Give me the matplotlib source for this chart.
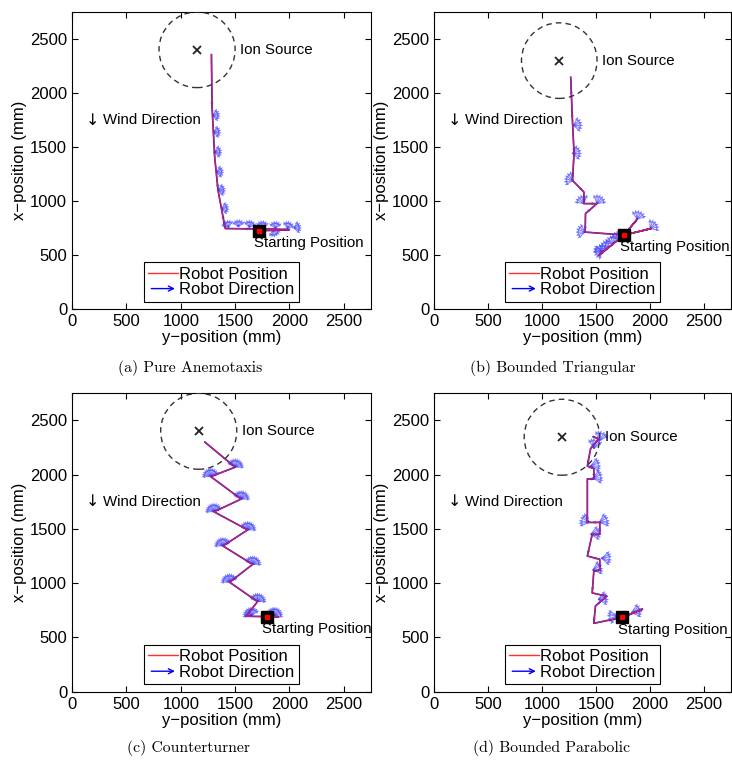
import numpy as np
import matplotlib
matplotlib.use("Agg")
import matplotlib.pyplot as plt
from matplotlib.patches import Circle, FancyArrowPatch
from matplotlib.legend_handler import HandlerBase
from matplotlib.lines import Line2D

plt.rcParams['font.family'] = ['Liberation Sans', 'DejaVu Sans']

# ---- data (mm): horizontal = y-position, vertical = x-position ----
captions = ["(a) Pure Anemotaxis", "(b) Bounded Triangular",
            "(c) Counterturner", "(d) Bounded Parabolic"]

source_a = (1150, 2400)
source_b = (1160, 2300)
source_c = (1165, 2400)
source_d = (1185, 2345)

start_a = (1715, 725)
start_b = (1760, 685)
start_c = (1790, 690)
start_d = (1745, 685)

path_a_h = [1715, 1850, 2000, 1850, 1650, 1410, 1397, 1343, 1312, 1288, 1282]
path_a_v = [725, 728, 735, 740, 742, 745, 806, 1099, 1406, 1868, 2355]

path_b_h = [1760, 2010, 1760, 1880, 1760, 1530, 1760, 1400, 1403, 1509, 1388, 1388, 1282, 1297, 1282, 1273, 1266]
path_b_v = [685, 745, 685, 830, 685, 500, 685, 712, 884, 976, 976, 1083, 1191, 1440, 1745, 1960, 2145]

path_c_h = [1790, 1900, 1600, 1706, 1449, 1661, 1388, 1615, 1306, 1555, 1276, 1500, 1222]
path_c_v = [690, 690, 695, 830, 1009, 1173, 1343, 1491, 1658, 1775, 1982, 2069, 2300]

path_d_h = [1745, 1930, 1745, 1480, 1495, 1600, 1465, 1480, 1535, 1535, 1420, 1465, 1535,
            1535, 1420, 1420, 1480, 1480, 1420, 1450, 1525, 1475]
path_d_v = [685, 760, 685, 630, 790, 880, 910, 1110, 1120, 1220, 1250, 1450, 1450,
            1560, 1560, 1960, 1960, 2055, 2080, 2240, 2330, 2350]

# fans of heading arrows while the robot turns in place (centre, mean heading in deg)
fan_a_h = [1374, 1343, 1326, 1310, 1300, 1292, 1440, 1530, 1630, 1750, 1870, 1980, 2040, 1850]
fan_a_v = [930, 1099, 1268, 1453, 1637, 1792, 755, 760, 755, 750, 745, 745, 750, 735]
fan_a_dir = [5, 5, 5, 5, 5, 5, 110, 90, 80, 90, 90, 70, 10, -70]
fan_a_off = [-50, -30, -10, 10, 30, 50]

fan_b_h = [2000, 1880, 1560, 1610, 1660, 1710, 1560, 1400, 1509, 1388, 1290, 1282, 1290]
fan_b_v = [745, 830, 520, 560, 600, 640, 540, 712, 976, 976, 1191, 1440, 1700]
fan_b_dir = [40, 70, 120, 130, 120, 110, 200, 170, 60, 120, 160, 10, 10]
fan_b_off = [-50, -30, -10, 10, 30, 50]

fan_c_h = [1650, 1860, 1706, 1449, 1661, 1388, 1615, 1306, 1555, 1276, 1500]
fan_c_v = [700, 700, 830, 1009, 1173, 1343, 1491, 1658, 1775, 1982, 2069]
fan_c_dir = [110, 70, 75, 105, 75, 105, 75, 105, 75, 105, 75]
fan_c_off = [-75, -60, -45, -30, -15, 0, 15, 30, 45, 60, 75]

fan_d_h = [1830, 1700, 1520, 1470, 1550, 1450, 1530, 1440, 1470, 1450, 1530, 1480]
fan_d_v = [730, 700, 850, 1120, 1230, 1450, 1560, 1560, 1970, 2080, 2310, 2240]
fan_d_dir = [15, 190, 10, 20, 0, 10, 20, 160, 10, 10, 70, 80]
fan_d_off = [-40, -25, -10, 10, 25, 40]

ticks = [0, 500, 1000, 1500, 2000, 2500]

panels = [
    (source_a, start_a, path_a_h, path_a_v, fan_a_h, fan_a_v, fan_a_dir, fan_a_off, 75),
    (source_b, start_b, path_b_h, path_b_v, fan_b_h, fan_b_v, fan_b_dir, fan_b_off, 90),
    (source_c, start_c, path_c_h, path_c_v, fan_c_h, fan_c_v, fan_c_dir, fan_c_off, 85),
    (source_d, start_d, path_d_h, path_d_v, fan_d_h, fan_d_v, fan_d_dir, fan_d_off, 100),
]


class ArrowHandler(HandlerBase):
    def create_artists(self, legend, orig_handle, xdescent, ydescent,
                       width, height, fontsize, trans):
        y = height / 2 - ydescent
        a = FancyArrowPatch((-xdescent, y), (width - xdescent, y),
                            arrowstyle='->', mutation_scale=9,
                            color='blue', lw=1.0, transform=trans)
        return [a]


fig = plt.figure(figsize=(7.32, 7.6), dpi=100)
axpos = [[0.0984, 0.5934, 0.4085, 0.3908],
         [0.5929, 0.5934, 0.4057, 0.3908],
         [0.0984, 0.0899, 0.4085, 0.3926],
         [0.5929, 0.0899, 0.4057, 0.3926]]
cap_pos = [(0.26, 0.516), (0.755, 0.516), (0.258, 0.016), (0.754, 0.016)]

for i, (src, st, ph, pv, fh, fv, fd, foff, flen) in enumerate(panels):
    ax = fig.add_axes(axpos[i])
    ph = np.array(ph, float)
    pv = np.array(pv, float)

    # heading fans
    qx, qy, qu, qw = [], [], [], []
    for h, v, d in zip(fh, fv, fd):
        for o in foff:
            t = np.deg2rad(d + o)
            qx.append(h); qy.append(v)
            qu.append(flen * np.cos(t)); qw.append(flen * np.sin(t))
    # headings along the path segments
    for k in range(len(ph) - 1):
        dh, dv = ph[k + 1] - ph[k], pv[k + 1] - pv[k]
        n = np.hypot(dh, dv)
        if n == 0:
            continue
        qx.append(ph[k]); qy.append(pv[k])
        qu.append(70 * dh / n); qw.append(70 * dv / n)
    ax.quiver(qx, qy, qu, qw, angles='xy', scale_units='xy', scale=1,
              color='#3c3cff', alpha=0.7, width=0.0032,
              headwidth=3.5, headlength=4, headaxislength=3.5, zorder=2)

    ax.plot(ph, pv, color='blue', lw=1.2, zorder=3)
    ax.plot(ph, pv, color='#ff3030', lw=1.0, alpha=0.75, zorder=4)

    ax.add_patch(Circle(src, 350, fill=False, ls=(0, (4, 3)), lw=1.0,
                        color='#333333', zorder=5))
    ax.plot(*src, marker='x', color='#222222', ms=5.5, mew=1.3, zorder=6)
    ax.text(src[0] + 395, src[1], "Ion Source", fontsize=10.8,
            va='center', ha='left', zorder=7)

    ax.plot(*st, marker='s', color='black', ms=9, zorder=8)
    ax.plot(*st, marker='s', color='red', ms=2.5, zorder=9)
    ax.text(st[0] - 40, st[1] - 115, "Starting Position", fontsize=10.8,
            va='center', ha='left', zorder=7)

    ax.text(125, 1750, "\u2193", fontsize=11.5, family='DejaVu Sans',
            va='center', ha='left')
    ax.text(285, 1750, "Wind Direction", fontsize=10.8,
            va='center', ha='left')

    ax.set_xlim(0, 2750)
    ax.set_ylim(0, 2750)
    ax.set_xticks(ticks)
    ax.set_yticks(ticks)
    ax.tick_params(direction='in', top=True, right=True, labelsize=12,
                   length=4, width=0.8)
    ax.set_xlabel("y\u2212position (mm)", fontsize=12, labelpad=1)
    ax.set_ylabel("x\u2212position (mm)", fontsize=12, labelpad=2)

    hpos = Line2D([], [], color='#ff3030', lw=1.0)
    hdir = Line2D([], [], color='blue', lw=1.0)
    leg = ax.legend([hpos, hdir], ["Robot Position", "Robot Direction"],
                    loc='lower center', bbox_to_anchor=(0.5, 0.025),
                    fontsize=12, fancybox=False, framealpha=1,
                    edgecolor='black', handlelength=1.75, handletextpad=0.1,
                    borderpad=0.25, labelspacing=0.05, borderaxespad=0,
                    handler_map={hdir: ArrowHandler()})
    leg.get_frame().set_linewidth(0.8)

    fig.text(cap_pos[i][0], cap_pos[i][1], captions[i], family='cmr10',
             fontsize=11.3, ha='center', va='center')

fig.savefig("out.png", dpi=100)
